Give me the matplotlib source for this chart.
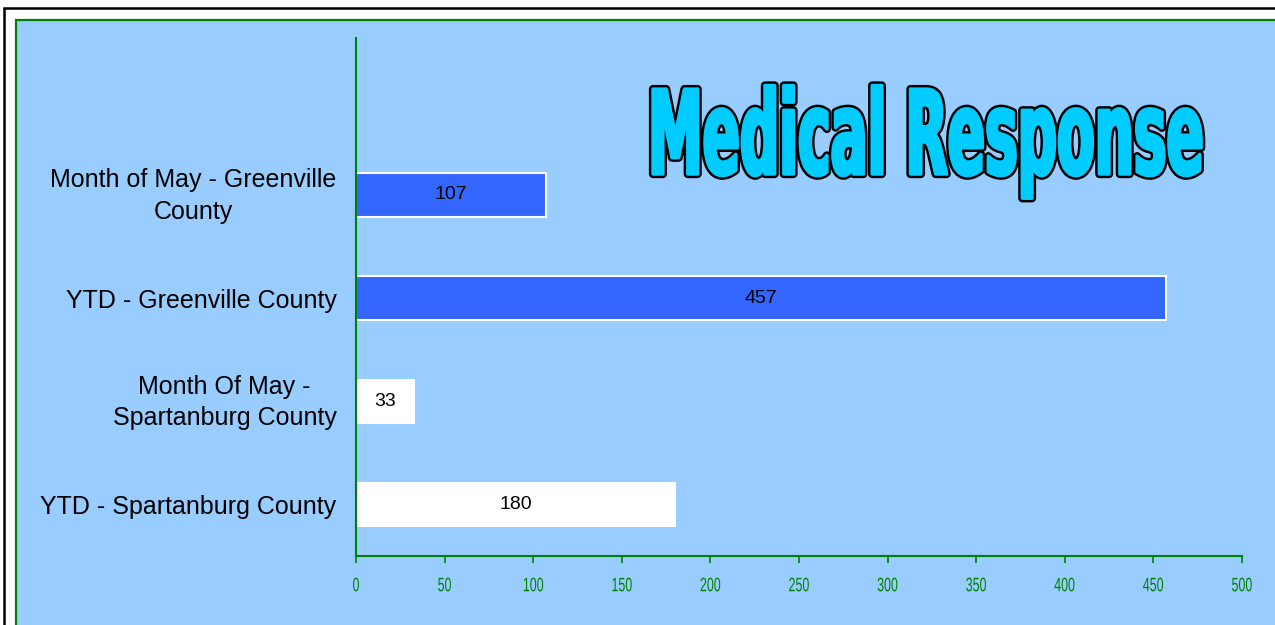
import matplotlib.pyplot as plt
from matplotlib import patheffects
from matplotlib.colors import to_rgba
from matplotlib.patches import Rectangle
from matplotlib.transforms import Affine2D, ScaledTranslation

categories = ['Month of May - Greenville\nCounty',
              'YTD - Greenville County',
              'Month Of May -\nSpartanburg County',
              'YTD - Spartanburg County']
calls = [107, 457, 33, 180]
xticks = [0, 50, 100, 150, 200, 250, 300, 350, 400, 450, 500]

bar_colors = ['#3366FF', '#3366FF', 'white', 'white']
green = '#008000'


class Stretched(patheffects.AbstractPathEffect):
    # scale the glyphs (about the left edge or the middle of the string),
    # optionally with an outline drawn under a fattened fill
    def __init__(self, sx, sy, face, edge=None, outer=0, inner=0, center=False):
        super().__init__()
        self.sx, self.sy, self.center = sx, sy, center
        self.face = to_rgba(face)
        self.edge, self.outer, self.inner = edge, outer, inner

    def draw_path(self, renderer, gc, tpath, affine, rgbFace):
        cx = 0
        if self.center:
            ext = tpath.get_extents()
            cx = (ext.x0 + ext.x1) / 2
        aff = (Affine2D().translate(-cx, 0).scale(self.sx, self.sy).translate(cx, 0)
               + affine)
        if self.edge is not None:
            g = renderer.new_gc()
            g.copy_properties(gc)
            g.set_linewidth(self.outer)
            g.set_foreground(self.edge)
            g.set_joinstyle('round')
            renderer.draw_path(g, tpath, aff, to_rgba(self.edge))
            g.restore()
        g = renderer.new_gc()
        g.copy_properties(gc)
        g.set_linewidth(self.inner)
        g.set_foreground(self.face)
        g.set_joinstyle('round')
        renderer.draw_path(g, tpath, aff, self.face)
        g.restore()


W, H = 1275, 625
fig = plt.figure(figsize=(W / 100, H / 100), dpi=100, facecolor='white')

# frames
fig.add_artist(Rectangle((4 / W, -0.1), 1.2, 1.1 - 8 / H, transform=fig.transFigure,
                         facecolor='white', edgecolor='black', lw=1.8, zorder=-10))
fig.add_artist(Rectangle((16 / W, -0.1), 1.2, 1.1 - 20 / H, transform=fig.transFigure,
                         facecolor='#99CCFF', edgecolor=green, lw=1.6, zorder=-9))

ax = fig.add_axes([356 / W, (H - 556) / H, (1242 - 356) / W, (556 - 38) / H])
ax.set_facecolor('none')

ypos = list(range(len(categories)))[::-1]
bars = ax.barh(ypos, calls, height=0.42, color=bar_colors, edgecolor='white', linewidth=1.5)
for b, v in zip(bars, calls):
    ax.text(v / 2, b.get_y() + b.get_height() / 2, str(v), ha='center', va='center',
            fontsize=14, family='Liberation Sans', color='black')

ax.set_xlim(0, 500)
ax.set_ylim(-0.5, 4.52)
ax.set_xticks(xticks)
ax.set_xticklabels([str(t) for t in xticks], family='Liberation Sans', fontsize=14, color=green)
for lab in ax.get_xticklabels():
    lab.set_path_effects([Stretched(0.64, 1.0, green, center=True)])
ax.set_yticks(ypos)
ax.set_yticklabels(categories, family='Liberation Sans', fontsize=18, color='black',
                   multialignment='center', linespacing=1.4)
ax.tick_params(axis='y', length=0, pad=14)
ax.tick_params(axis='x', length=5, width=1.2, color=green, pad=11)

# two-line labels sit a little higher in the original
up = ScaledTranslation(0, 5 / 100, fig.dpi_scale_trans)
for tick in ax.yaxis.get_major_ticks():
    if '\n' in tick.label1.get_text():
        tick.label1.set_transform(tick.label1.get_transform() + up)

for s in ['top', 'right']:
    ax.spines[s].set_visible(False)
for s in ['left', 'bottom']:
    ax.spines[s].set_color(green)
    ax.spines[s].set_linewidth(1.5)

title_size = 44
title = fig.text(648 / W, 1 - 174 / H, 'Medical Response', ha='left', va='baseline',
                 family='DejaVu Sans', fontstretch='condensed', weight='bold',
                 fontsize=title_size)
fig.canvas.draw()
tw = title.get_window_extent().width
sx = 556 / tw
sy = 85 / (0.73 * title_size * 100 / 72)
title.set_path_effects([Stretched(sx, sy, '#00CCFF', edge='black', outer=6, inner=2.5)])

fig.savefig('out.png', dpi=100)
